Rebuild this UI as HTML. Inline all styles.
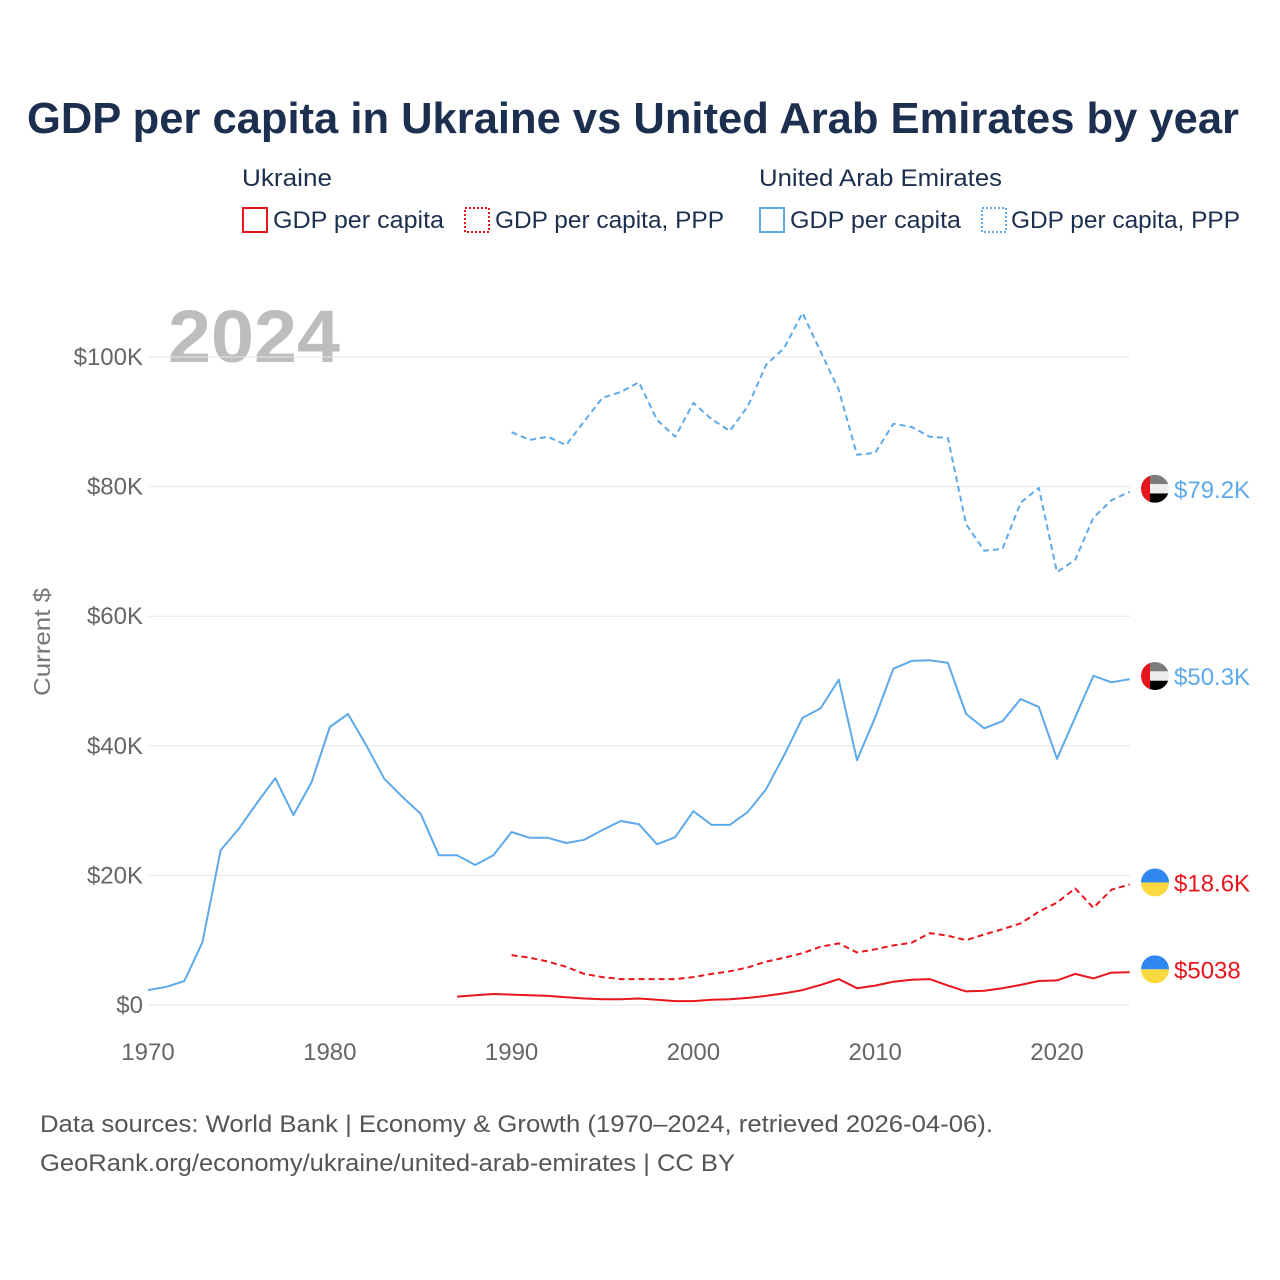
<!DOCTYPE html>
<html><head><meta charset="utf-8"><style>
html,body{margin:0;padding:0;background:#fff;}
svg{display:block;font-family:"Liberation Sans",sans-serif;}
</style></head><body>
<svg id="chart" width="1280" height="1280" viewBox="0 0 1280 1280">
<text x="633" y="133" text-anchor="middle" font-size="44" font-weight="bold" fill="#1c2f4e" textLength="1212" lengthAdjust="spacingAndGlyphs">GDP per capita in Ukraine vs United Arab Emirates by year</text>
<g fill="#1c2f4e" font-size="24">
<text x="242" y="186" textLength="90" lengthAdjust="spacingAndGlyphs">Ukraine</text>
<g><rect x="243" y="208" width="24" height="24" fill="none" stroke="#e8161c" stroke-width="2"/><text x="273" y="228" textLength="171" lengthAdjust="spacingAndGlyphs">GDP per capita</text></g>
<g><rect x="465" y="208" width="24" height="24" fill="none" stroke="#e8161c" stroke-width="2" stroke-dasharray="2,2"/><text x="495" y="228" textLength="229" lengthAdjust="spacingAndGlyphs">GDP per capita, PPP</text></g>
<text x="759" y="186" textLength="243" lengthAdjust="spacingAndGlyphs">United Arab Emirates</text>
<g><rect x="760" y="208" width="24" height="24" fill="none" stroke="#5ea9ea" stroke-width="2"/><text x="790" y="228" textLength="171" lengthAdjust="spacingAndGlyphs">GDP per capita</text></g>
<g><rect x="982" y="208" width="24" height="24" fill="none" stroke="#5ea9ea" stroke-width="2" stroke-dasharray="2,2"/><text x="1011" y="228" textLength="229" lengthAdjust="spacingAndGlyphs">GDP per capita, PPP</text></g>
</g>
<text x="168" y="362" font-size="74" font-weight="bold" fill="#bdbdbd" textLength="172" lengthAdjust="spacingAndGlyphs">2024</text>
<text transform="translate(50,642) rotate(-90)" text-anchor="middle" font-size="23" fill="#777" textLength="108" lengthAdjust="spacingAndGlyphs">Current $</text>
<g id="grid"></g><g id="series"></g><g id="labels"></g>
<g fill="#555" font-size="24">
<text x="40" y="1132" textLength="953" lengthAdjust="spacingAndGlyphs">Data sources: World Bank | Economy &amp; Growth (1970–2024, retrieved 2026-04-06).</text>
<text x="40" y="1171" textLength="695" lengthAdjust="spacingAndGlyphs">GeoRank.org/economy/ukraine/united-arab-emirates | CC BY</text>
</g>
</svg>
<script>
const yTicks=[0,20,40,60,80,100];
const yTickLabels=["$0","$20K","$40K","$60K","$80K","$100K"];
const xTicks=[1970,1980,1990,2000,2010,2020];
const uaeGdpStart=1970;
const uaeGdp=[2.3,2.8,3.7,9.7,23.9,27.2,31.2,35,29.3,34.4,42.9,44.9,40.1,34.9,32.1,29.5,23.1,23.1,21.6,23.1,26.7,25.8,25.8,25,25.5,27,28.4,27.9,24.8,25.9,29.9,27.8,27.8,29.8,33.3,38.6,44.3,45.8,50.2,37.8,44.4,51.9,53.1,53.2,52.8,44.9,42.7,43.8,47.2,46,38,44.4,50.8,49.8,50.3];
const uaePppStart=1990;
const uaePpp=[88.4,87.2,87.7,86.4,90.1,93.7,94.6,96.1,90.3,87.7,92.9,90.4,88.6,92.4,98.8,101.4,106.8,100.8,94.9,84.9,85.2,89.7,89.2,87.7,87.5,74.2,70.1,70.4,77.5,79.8,66.8,68.7,75.2,77.9,79.2];
const ukrGdpStart=1987;
const ukrGdp=[1.3,1.5,1.7,1.6,1.5,1.4,1.2,1.0,0.9,0.9,1.0,0.8,0.6,0.6,0.8,0.9,1.1,1.4,1.8,2.3,3.1,4.0,2.6,3.0,3.6,3.9,4.0,3.0,2.1,2.2,2.6,3.1,3.7,3.8,4.8,4.1,5.0,5.04];
const ukrPppStart=1990;
const ukrPpp=[7.7,7.3,6.7,5.9,4.8,4.3,4.0,4.0,4.0,4.0,4.3,4.8,5.2,5.8,6.7,7.3,8.0,9.0,9.5,8.1,8.6,9.2,9.6,11.1,10.7,10.0,10.9,11.7,12.6,14.4,15.8,18.0,15.0,17.8,18.6];
const endLabels=["$79.2K","$50.3K","$18.6K","$5038"];

const NS="http://www.w3.org/2000/svg";
const X=yr=>148+(yr-1970)*(1057-148)/50;
const Y=v=>1005-v*6.48;
function mk(t,a,p){const e=document.createElementNS(NS,t);for(const k in a)e.setAttribute(k,a[k]);p.appendChild(e);return e;}
const grid=document.getElementById('grid');
yTicks.forEach((v,i)=>{
 const l=mk('line',{x1:148,x2:1130,y1:Y(v),y2:Y(v),stroke:'#e6e6e6','stroke-width':1},grid);
 
 
 const t=mk('text',{x:143,y:Y(v)+8,'text-anchor':'end','font-size':24,fill:'#666'},grid);
 t.textContent=yTickLabels[i];
 
 
});
xTicks.forEach(yr=>{
 const t=mk('text',{x:X(yr),y:1060,'text-anchor':'middle','font-size':24,fill:'#666'},grid);
 t.textContent=yr;
 
 
});
const ser=document.getElementById('series');
function line(arr,start,color,dash,name){
 const d=arr.map((v,i)=>(i?'L':'M')+X(start+i).toFixed(1)+','+Y(v).toFixed(1)).join('');
 const p=mk('path',{d:d,fill:'none',stroke:color,'stroke-width':2,'stroke-linejoin':'round'},ser);
 if(dash)p.setAttribute('stroke-dasharray','6,4');
 
 
 return Y(arr[arr.length-1]);
}
const yU1=line(uaePpp,uaePppStart,'#5ea9ea',true,'uae-ppp-line');
const yU2=line(uaeGdp,uaeGdpStart,'#5ea9ea',false,'uae-gdp-line');
const yK1=line(ukrPpp,ukrPppStart,'#e8161c',true,'ukraine-ppp-line');
const yK2=line(ukrGdp,ukrGdpStart,'#e8161c',false,'ukraine-gdp-line');
const lab=document.getElementById('labels');
function flag(cy,uae,txt,color){
 const g=mk('g',{},lab);
 
 
 const cx=1155,r=14;
 const id='c'+Math.round(cy);
 const cp=mk('clipPath',{id:id},g);mk('circle',{cx:cx,cy:cy,r:r},cp);
 const f=mk('g',{'clip-path':'url(#'+id+')'},g);
 if(uae){
  mk('rect',{x:cx-r,y:cy-r,width:2*r,height:2*r/3,fill:'#7a7d7a'},f);
  mk('rect',{x:cx-r,y:cy-r+2*r/3,width:2*r,height:2*r/3,fill:'#eeeeee'},f);
  mk('rect',{x:cx-r,y:cy-r+4*r/3,width:2*r,height:2*r/3,fill:'#000'},f);
  mk('rect',{x:cx-r,y:cy-r,width:9,height:2*r,fill:'#e8161c'},f);
 }else{
  mk('rect',{x:cx-r,y:cy-r,width:2*r,height:r,fill:'#2f87f0'},f);
  mk('rect',{x:cx-r,y:cy,width:2*r,height:r,fill:'#fcd93f'},f);
 }
 const t=mk('text',{x:1174,y:cy+9,'font-size':24,fill:color},g);t.textContent=txt;
}
flag(yU1-3,true,endLabels[0],'#5ea9ea');
flag(yU2-3,true,endLabels[1],'#5ea9ea');
flag(yK1-2,false,endLabels[2],'#e8161c');
flag(yK2-3,false,endLabels[3],'#e8161c');
</script>
</body></html>
